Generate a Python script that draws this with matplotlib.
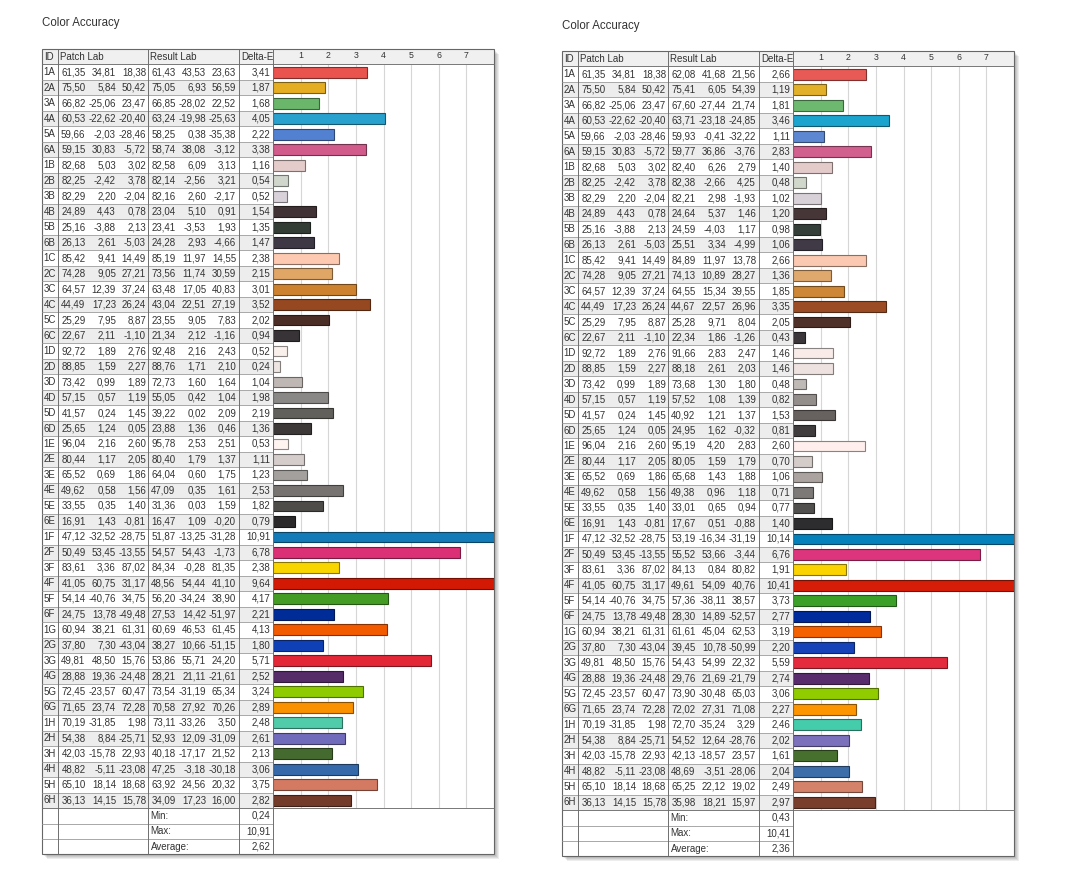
import colorsys
import numpy as np
import matplotlib
matplotlib.use("Agg")
import matplotlib.pyplot as plt
from matplotlib.patches import Rectangle

plt.rcParams['font.family'] = ['Liberation Sans', 'DejaVu Sans']

ids = ["1A", "2A", "3A", "4A", "5A", "6A",
       "1B", "2B", "3B", "4B", "5B", "6B",
       "1C", "2C", "3C", "4C", "5C", "6C",
       "1D", "2D", "3D", "4D", "5D", "6D",
       "1E", "2E", "3E", "4E", "5E", "6E",
       "1F", "2F", "3F", "4F", "5F", "6F",
       "1G", "2G", "3G", "4G", "5G", "6G",
       "1H", "2H", "3H", "4H", "5H", "6H"]

patch_lab = [
    (61.35, 34.81, 18.38), (75.50, 5.84, 50.42), (66.82, -25.06, 23.47),
    (60.53, -22.62, -20.40), (59.66, -2.03, -28.46), (59.15, 30.83, -5.72),
    (82.68, 5.03, 3.02), (82.25, -2.42, 3.78), (82.29, 2.20, -2.04),
    (24.89, 4.43, 0.78), (25.16, -3.88, 2.13), (26.13, 2.61, -5.03),
    (85.42, 9.41, 14.49), (74.28, 9.05, 27.21), (64.57, 12.39, 37.24),
    (44.49, 17.23, 26.24), (25.29, 7.95, 8.87), (22.67, 2.11, -1.10),
    (92.72, 1.89, 2.76), (88.85, 1.59, 2.27), (73.42, 0.99, 1.89),
    (57.15, 0.57, 1.19), (41.57, 0.24, 1.45), (25.65, 1.24, 0.05),
    (96.04, 2.16, 2.60), (80.44, 1.17, 2.05), (65.52, 0.69, 1.86),
    (49.62, 0.58, 1.56), (33.55, 0.35, 1.40), (16.91, 1.43, -0.81),
    (47.12, -32.52, -28.75), (50.49, 53.45, -13.55), (83.61, 3.36, 87.02),
    (41.05, 60.75, 31.17), (54.14, -40.76, 34.75), (24.75, 13.78, -49.48),
    (60.94, 38.21, 61.31), (37.80, 7.30, -43.04), (49.81, 48.50, 15.76),
    (28.88, 19.36, -24.48), (72.45, -23.57, 60.47), (71.65, 23.74, 72.28),
    (70.19, -31.85, 1.98), (54.38, 8.84, -25.71), (42.03, -15.78, 22.93),
    (48.82, -5.11, -23.08), (65.10, 18.14, 18.68), (36.13, 14.15, 15.78),
]

result_lab_left = [
    (61.43, 43.53, 23.63), (75.05, 6.93, 56.59), (66.85, -28.02, 22.52),
    (63.24, -19.98, -25.63), (58.25, 0.38, -35.38), (58.74, 38.08, -3.12),
    (82.58, 6.09, 3.13), (82.14, -2.56, 3.21), (82.16, 2.60, -2.17),
    (23.04, 5.10, 0.91), (23.41, -3.53, 1.93), (24.28, 2.93, -4.66),
    (85.19, 11.97, 14.55), (73.56, 11.74, 30.59), (63.48, 17.05, 40.83),
    (43.04, 22.51, 27.19), (23.55, 9.05, 7.83), (21.34, 2.12, -1.16),
    (92.48, 2.16, 2.43), (88.76, 1.71, 2.10), (72.73, 1.60, 1.64),
    (55.05, 0.42, 1.04), (39.22, 0.02, 2.09), (23.88, 1.36, 0.46),
    (95.78, 2.53, 2.51), (80.40, 1.79, 1.37), (64.04, 0.60, 1.75),
    (47.09, 0.35, 1.61), (31.36, 0.03, 1.59), (16.47, 1.09, -0.20),
    (51.87, -13.25, -31.28), (54.57, 54.43, -1.73), (84.34, -0.28, 81.35),
    (48.56, 54.44, 41.10), (56.20, -34.24, 38.90), (27.53, 14.42, -51.97),
    (60.69, 46.53, 61.45), (38.27, 10.66, -51.15), (53.86, 55.71, 24.20),
    (28.21, 21.11, -21.61), (73.54, -31.19, 65.34), (70.58, 27.92, 70.26),
    (73.11, -33.26, 3.50), (52.93, 12.09, -31.09), (40.18, -17.17, 21.52),
    (47.25, -3.18, -30.18), (63.92, 24.56, 20.32), (34.09, 17.23, 16.00),
]
delta_e_left = [3.41, 1.87, 1.68, 4.05, 2.22, 3.38,
                1.16, 0.54, 0.52, 1.54, 1.35, 1.47,
                2.38, 2.15, 3.01, 3.52, 2.02, 0.94,
                0.52, 0.24, 1.04, 1.98, 2.19, 1.36,
                0.53, 1.11, 1.23, 2.53, 1.82, 0.79,
                10.91, 6.78, 2.38, 9.64, 4.17, 2.21,
                4.13, 1.80, 5.71, 2.52, 3.24, 2.89,
                2.48, 2.61, 2.13, 3.06, 3.75, 2.82]
summary_left = [0.24, 10.91, 2.62]

result_lab_right = [
    (62.08, 41.68, 21.56), (75.41, 6.05, 54.39), (67.60, -27.44, 21.74),
    (63.71, -23.18, -24.85), (59.93, -0.41, -32.22), (59.77, 36.86, -3.76),
    (82.40, 6.26, 2.79), (82.38, -2.66, 4.25), (82.21, 2.98, -1.93),
    (24.64, 5.37, 1.46), (24.59, -4.03, 1.17), (25.51, 3.34, -4.99),
    (84.89, 11.97, 13.78), (74.13, 10.89, 28.27), (64.55, 15.34, 39.55),
    (44.67, 22.57, 26.96), (25.28, 9.71, 8.04), (22.34, 1.86, -1.26),
    (91.66, 2.83, 2.47), (88.18, 2.61, 2.03), (73.68, 1.30, 1.80),
    (57.52, 1.08, 1.39), (40.92, 1.21, 1.37), (24.95, 1.62, -0.32),
    (95.19, 4.20, 2.83), (80.05, 1.59, 1.79), (65.68, 1.43, 1.88),
    (49.38, 0.96, 1.18), (33.01, 0.65, 0.94), (17.67, 0.51, -0.88),
    (53.19, -16.34, -31.19), (55.52, 53.66, -3.44), (84.13, 0.84, 80.82),
    (49.61, 54.09, 40.76), (57.36, -38.11, 38.57), (28.30, 14.89, -52.57),
    (61.61, 45.04, 62.53), (39.45, 10.78, -50.99), (54.43, 54.99, 22.32),
    (29.76, 21.69, -21.79), (73.90, -30.48, 65.03), (72.02, 27.31, 71.08),
    (72.70, -35.24, 3.29), (54.52, 12.64, -28.76), (42.13, -18.57, 23.57),
    (48.69, -3.51, -28.06), (65.25, 22.12, 19.02), (35.98, 18.21, 15.97),
]
delta_e_right = [2.66, 1.19, 1.81, 3.46, 1.11, 2.83,
                 1.40, 0.48, 1.02, 1.20, 0.98, 1.06,
                 2.66, 1.36, 1.85, 3.35, 2.05, 0.43,
                 1.46, 1.46, 0.48, 0.82, 1.53, 0.81,
                 2.60, 0.70, 1.06, 0.71, 0.77, 1.40,
                 10.14, 6.76, 1.91, 10.41, 3.73, 2.77,
                 3.19, 2.20, 5.59, 2.74, 3.06, 2.27,
                 2.46, 2.02, 1.61, 2.04, 2.49, 2.97]
summary_right = [0.43, 10.41, 2.36]

summary_labels = ["Min:", "Max:", "Average:"]
axis_ticks = [1, 2, 3, 4, 5, 6, 7]

W, H = 1072, 888
TXT = '#333333'
FS = 7.0


def fmt(v):
    return f"{v:.2f}".replace(".", ",")


def lab_to_rgb(lab):
    L, a, b = lab
    fy = (L + 16) / 116
    fx = fy + a / 500
    fz = fy - b / 200

    def finv(t):
        return t ** 3 if t > 6 / 29 else 3 * (6 / 29) ** 2 * (t - 4 / 29)

    xyz = np.array([0.96422 * finv(fx), finv(fy), 0.82521 * finv(fz)])
    m = np.array([[3.1338561, -1.6168667, -0.4906146],
                  [-0.9787684, 1.9161415, 0.0334540],
                  [0.0719453, -0.2289914, 1.4052427]])
    rgb = np.clip(m @ xyz, 0, 1)
    rgb = np.where(rgb <= 0.0031308, 12.92 * rgb, 1.055 * rgb ** (1 / 2.4) - 0.055)
    # the screenshot's swatches look a bit punchier than a plain conversion
    h, s, v = colorsys.rgb_to_hsv(*np.clip(rgb, 0, 1))
    return np.array(colorsys.hsv_to_rgb(h, min(1, s * 1.3), min(1, v * 1.04)))


fig = plt.figure(figsize=(W / 100, H / 100), dpi=100)
fig.patch.set_facecolor('white')

ax_bg = fig.add_axes([0, 0, 1, 1], zorder=0)
ax_bg.set_xlim(0, W)
ax_bg.set_ylim(H, 0)
ax_bg.axis('off')

ax = fig.add_axes([0, 0, 1, 1], zorder=2)
ax.set_xlim(0, W)
ax.set_ylim(H, 0)
ax.axis('off')
ax.patch.set_alpha(0)

PITCH = 15.49
NROWS = len(ids)


def draw_panel(ox, oy, title_y, result_lab, delta_e, summary):
    xl, xid, xp, xr, xd, xrt = 42 + ox, 58 + ox, 148 + ox, 239 + ox, 273 + ox, 494 + ox
    y0 = 49 + oy
    total = (NROWS + 4) * PITCH
    yb6 = y0 + (NROWS + 1) * PITCH

    ax.text(xl, title_y, "Color Accuracy", fontsize=8.3, color=TXT, ha='left', va='center')

    # shadow + white body
    for k in range(1, 6):
        ax_bg.add_patch(Rectangle((xl + k, y0 + k), xrt - xl, total, facecolor='#000000',
                                  alpha=0.07, linewidth=0))
    ax_bg.add_patch(Rectangle((xl, y0), xrt - xl, total, facecolor='white', linewidth=0))

    # header + alternating shading
    ax.add_patch(Rectangle((xl, y0), xd - xl, PITCH, facecolor='#f0f0f0', linewidth=0))
    for i in range(NROWS):
        if i % 2 == 1:
            ax.add_patch(Rectangle((xl, y0 + (i + 1) * PITCH), xd - xl, PITCH,
                                   facecolor='#ededed', linewidth=0))

    # grid lines of the table
    for i in range(1, NROWS + 4):
        yy = y0 + i * PITCH
        right = xrt if i in (1, NROWS + 1) else xd
        col = '#777777' if i in (1, NROWS + 1) else '#a8a8a8'
        ax.plot([xl, right], [yy, yy], color=col, lw=0.7, solid_capstyle='butt')
    for xx in (xid, xp, xr, xd):
        ax.plot([xx, xx], [y0, y0 + total], color='#6e6e6e', lw=0.7, solid_capstyle='butt')
    ax.add_patch(Rectangle((xl, y0), xrt - xl, total, fill=False, edgecolor='#666666', lw=0.8))

    # header texts
    hy = y0 + 0.5 * PITCH
    ax.text(xl + 2, hy, "ID", fontsize=FS, color=TXT, va='center')
    ax.text(xid + 2.5, hy, "Patch Lab", fontsize=FS, color=TXT, va='center')
    ax.text(xp + 2.5, hy, "Result Lab", fontsize=FS, color=TXT, va='center')
    ax.text(xr + 2, hy, "Delta-E", fontsize=FS, color=TXT, va='center')

    p_right = [85.5 + ox, 116 + ox, 146 + ox]
    r_right = [175.5 + ox, 206 + ox, 236 + ox]
    for i in range(NROWS):
        yy = y0 + (i + 1.5) * PITCH
        ax.text(xl + 1.5, yy, ids[i], fontsize=FS, color=TXT, va='center')
        for k in range(3):
            ax.text(p_right[k], yy, fmt(patch_lab[i][k]), fontsize=FS, color=TXT,
                    ha='right', va='center')
            ax.text(r_right[k], yy, fmt(result_lab[i][k]), fontsize=FS, color=TXT,
                    ha='right', va='center')
        ax.text(xd - 2.5, yy, fmt(delta_e[i]), fontsize=FS, color=TXT, ha='right', va='center')

    for j in range(3):
        yy = y0 + (NROWS + 1.5 + j) * PITCH
        ax.text(xp + 2.5, yy, summary_labels[j], fontsize=FS, color=TXT, va='center')
        ax.text(xd - 2.5, yy, fmt(summary[j]), fontsize=FS, color=TXT, ha='right', va='center')

    # bar chart part
    ax_b = fig.add_axes([xd / W, 1 - yb6 / H, (xrt - xd) / W, (yb6 - y0) / H], zorder=1)
    ax_b.patch.set_alpha(0)
    ax_b.set_xlim(0, 8)
    ax_b.set_ylim(NROWS - 0.5, -1.5)
    ax_b.axis('off')
    ax_b.axhspan(-1.5, -0.5, color='#f0f0f0', lw=0, zorder=0)
    ax_b.vlines(axis_ticks, -0.5, NROWS - 0.5, color='#d6d6d6', lw=0.8, zorder=1)
    for t in axis_ticks:
        ax_b.text(t, -1.05, str(t), fontsize=6.3, color=TXT, ha='center', va='center')
    colors = [lab_to_rgb(c) for c in result_lab]
    edges = [c * 0.55 for c in colors]
    ax_b.barh(np.arange(NROWS), delta_e, height=0.7, color=colors, edgecolor=edges,
              linewidth=0.8, zorder=2)


draw_panel(0, 0, 23, result_lab_left, delta_e_left, summary_left)
draw_panel(520, 2, 26, result_lab_right, delta_e_right, summary_right)

fig.savefig('out.png', dpi=100, facecolor='white')
